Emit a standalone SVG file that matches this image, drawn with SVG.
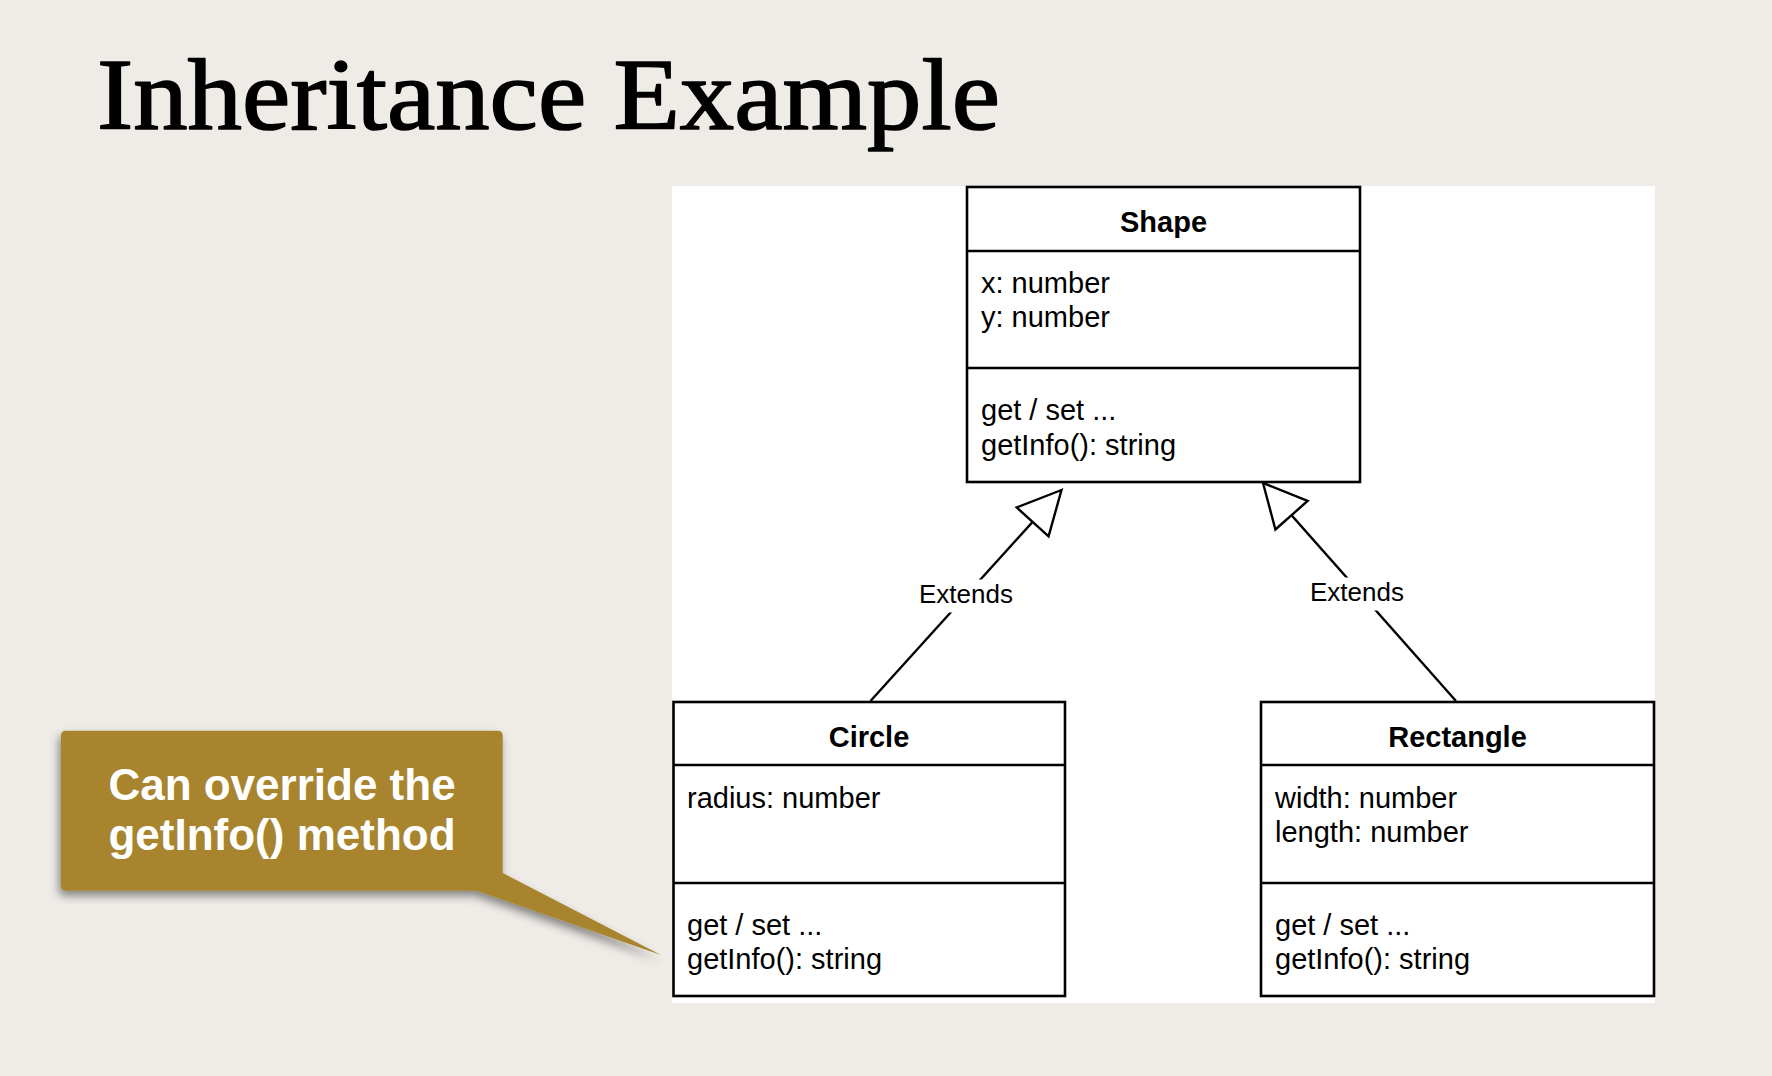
<svg xmlns="http://www.w3.org/2000/svg" width="1772" height="1076" viewBox="0 0 1772 1076">
  <style>
    .box { fill: #ffffff; stroke: #000000; stroke-width: 2.6; }
    .div { stroke: #000000; stroke-width: 2.6; }
    .title { font-family: "Liberation Sans", Arial, Helvetica, sans-serif; font-size: 29px; font-weight: bold; fill: #000; text-anchor: middle; }
    .member { font-family: "Liberation Sans", Arial, Helvetica, sans-serif; font-size: 29px; fill: #000; }
    .edge { fill: none; stroke: #000; stroke-width: 2.4; }
    .elabel { font-family: "Liberation Sans", Arial, Helvetica, sans-serif; font-size: 26px; fill: #000; text-anchor: middle; }
    .callout-text { font-family: "Liberation Sans", Arial, Helvetica, sans-serif; font-size: 44px; font-weight: bold; fill: #ffffff; text-anchor: middle; }
  </style>
  <defs>
    <!-- hollow triangle for UML generalization -->
    <marker id="extends" markerUnits="userSpaceOnUse" viewBox="-48 -26 52 52" refX="0" refY="0" markerWidth="52" markerHeight="52" orient="auto" overflow="visible">
      <path d="M0,0 L-43,-21.5 L-43,21.5 Z" fill="#ffffff" stroke="#000000" stroke-width="2.4" stroke-linejoin="miter"/>
    </marker>
    <filter id="shadow" x="-10%" y="-10%" width="120%" height="130%">
      <feDropShadow dx="-2" dy="5" stdDeviation="5" flood-color="#000000" flood-opacity="0.45"/>
    </filter>
  </defs>

  <!-- slide background -->
  <rect x="0" y="0" width="1772" height="1076" fill="#efece8"/>

  <!-- heading -->
  <text x="97" y="129" font-family="'Liberation Serif', 'Times New Roman', serif" font-size="102" fill="#000" stroke="#000" stroke-width="1.6" stroke-linejoin="round" textLength="903" lengthAdjust="spacingAndGlyphs">Inheritance Example</text>

  <!-- diagram canvas -->
  <rect x="672" y="186" width="983" height="817" fill="#ffffff"/>

  <!-- connectors -->
  <g id="connectors">
    <path class="edge" d="M870.5,701 L1061.5,490" marker-end="url(#extends)"/>
    <path class="edge" d="M1456,701 L1263,483" marker-end="url(#extends)"/>
    <rect x="917" y="579.5" width="98" height="33" fill="#ffffff"/>
    <text class="elabel" x="966" y="603">Extends</text>
    <rect x="1308" y="577.5" width="98" height="33" fill="#ffffff"/>
    <text class="elabel" x="1357" y="601">Extends</text>
  </g>

  <!-- Shape class -->
  <g id="shape">
    <rect class="box" x="967" y="187" width="393" height="295"/>
    <line class="div" x1="967" y1="251" x2="1360" y2="251"/>
    <line class="div" x1="967" y1="368" x2="1360" y2="368"/>
    <text class="title" x="1163.5" y="232">Shape</text>
    <text class="member" x="981" y="293">x: number</text>
    <text class="member" x="981" y="327">y: number</text>
    <text class="member" x="981" y="420">get / set ...</text>
    <text class="member" x="981" y="455">getInfo(): string</text>
  </g>

  <!-- Circle class -->
  <g id="circle">
    <rect class="box" x="673.5" y="702" width="391.5" height="294"/>
    <line class="div" x1="673.5" y1="765" x2="1065" y2="765"/>
    <line class="div" x1="673.5" y1="883" x2="1065" y2="883"/>
    <text class="title" x="869" y="747">Circle</text>
    <text class="member" x="687" y="808">radius: number</text>
    <text class="member" x="687" y="935">get / set ...</text>
    <text class="member" x="687" y="969">getInfo(): string</text>
  </g>

  <!-- Rectangle class -->
  <g id="rectangle">
    <rect class="box" x="1261" y="702" width="393" height="294"/>
    <line class="div" x1="1261" y1="765" x2="1654" y2="765"/>
    <line class="div" x1="1261" y1="883" x2="1654" y2="883"/>
    <text class="title" x="1457.5" y="747">Rectangle</text>
    <text class="member" x="1275" y="808">width: number</text>
    <text class="member" x="1275" y="842">length: number</text>
    <text class="member" x="1275" y="935">get / set ...</text>
    <text class="member" x="1275" y="969">getInfo(): string</text>
  </g>

  <!-- speech-bubble note -->
  <g id="note">
    <path d="M66,730.7 H497.7 Q502.7,730.7 502.7,735.7 V873 L661,955 L476.7,890.7 H66 Q61,890.7 61,885.7 V735.7 Q61,730.7 66,730.7 Z" fill="#a9842d" filter="url(#shadow)"/>
    <text class="callout-text" x="282" y="800">Can override the</text>
    <text class="callout-text" x="282" y="850">getInfo() method</text>
  </g>
</svg>
